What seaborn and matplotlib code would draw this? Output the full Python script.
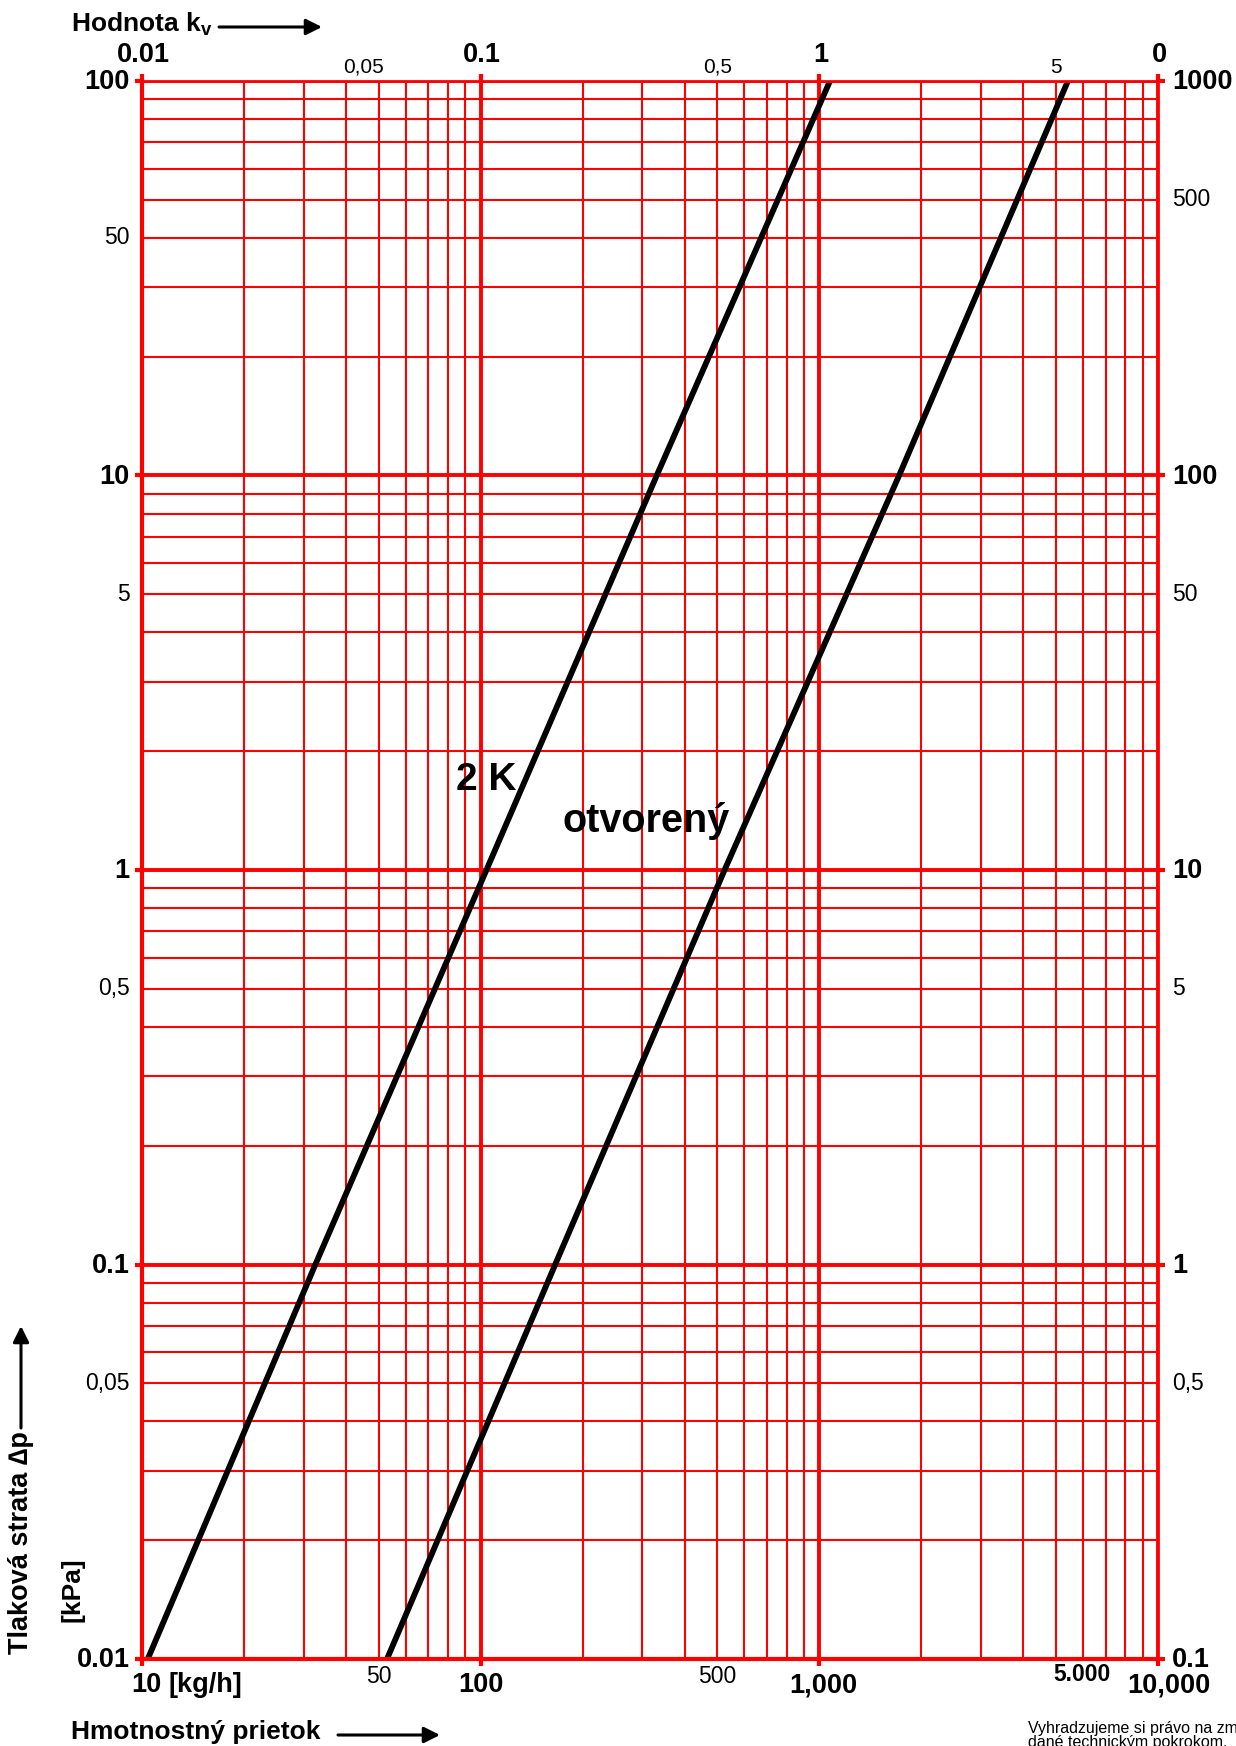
import numpy as np
import pandas as pd
import matplotlib
matplotlib.use("Agg")
import matplotlib.pyplot as plt
import seaborn as sns

# ---------------- data ----------------
pressure_kpa = [0.01, 0.1, 1, 10, 100]
flow_2k = [10.4, 32.5, 104, 331, 1075]
flow_open = [52.9, 166, 525, 1720, 5420]
series_names = ["2 K", "otvorený"]

left_major = [0.01, 0.1, 1, 10, 100]
left_major_lbl = ["0.01", "0.1", "1", "10", "100"]
left_minor = [0.05, 0.5, 5, 40]
left_minor_lbl = ["0,05", "0,5", "5", "50"]

right_major = [0.01, 0.1, 1, 10, 100]
right_major_lbl = ["0.1", "1", "10", "100", "1000"]
right_minor = [0.05, 0.5, 5, 50]
right_minor_lbl = ["0,5", "5", "50", "500"]

bottom_major = [10, 100, 1000, 10000]
bottom_major_lbl = ["10", "100", "1,000", "10,000"]
bottom_minor = [50, 500]
bottom_minor_lbl = ["50", "500"]

top_major = [10, 100, 1000, 10000]
top_major_lbl = ["0.01", "0.1", "1", "0"]
top_minor = [45, 500, 5000]
top_minor_lbl = ["0,05", "0,5", "5"]

# ---------------- style ----------------
sns.set_theme(style="white")
plt.rcParams["font.family"] = ["Liberation Sans", "DejaVu Sans"]
plt.rcParams["text.color"] = "black"
plt.rcParams["mathtext.fontset"] = "custom"
plt.rcParams["mathtext.rm"] = "Liberation Sans"
plt.rcParams["mathtext.bf"] = "Liberation Sans:bold"

W, H = 1236, 1746
fig = plt.figure(figsize=(W / 100, H / 100), dpi=100)
fig.patch.set_facecolor("white")

L, R, T, B = 142, 1158, 81, 1659
ax = fig.add_axes([L / W, 1 - B / H, (R - L) / W, (B - T) / H])
ax.set_facecolor("white")

def fp(x, y):
    return (x / W, 1 - y / H)

df = pd.DataFrame({
    "flow": flow_2k + flow_open,
    "dp": pressure_kpa + pressure_kpa,
    "series": [series_names[0]] * len(flow_2k) + [series_names[1]] * len(flow_open),
})

ax.set_xscale("log")
ax.set_yscale("log")
ax.set_xlim(10, 10000)
ax.set_ylim(0.01, 100)

RED = "#ff0000"
ax.set_axisbelow(True)
ax.yaxis.set_minor_locator(matplotlib.ticker.LogLocator(base=10, subs=np.arange(2, 10), numticks=20))
ax.xaxis.set_minor_locator(matplotlib.ticker.LogLocator(base=10, subs=np.arange(2, 10), numticks=20))
ax.grid(which="major", color=RED, lw=2.8)
ax.grid(which="minor", color=RED, lw=1.5)
for side, sp in ax.spines.items():
    sp.set_color(RED)
    sp.set_linewidth(3.0 if side in ("left", "bottom") else 2.0)

ax.tick_params(which="major", direction="out", length=5, width=3, color=RED,
               left=True, bottom=True, top=True, right=True,
               labelleft=False, labelbottom=False, labeltop=False, labelright=False)
ax.tick_params(which="minor", length=0)

sns.lineplot(data=df, x="flow", y="dp", hue="series", palette=["black", "black"],
             legend=False, estimator=None, sort=False, lw=4.2, ax=ax,
             solid_capstyle="butt")
ax.set_xlabel("")
ax.set_ylabel("")

BOLD = 19.5
NORM = 16.5
ytr = ax.get_yaxis_transform()
xtr = ax.get_xaxis_transform()

# left labels
for v, s in zip(left_major, left_major_lbl):
    ax.annotate(s, xy=(0, v), xycoords=ytr, xytext=(-9, -1), textcoords="offset points",
                ha="right", va="center", fontsize=BOLD, fontweight="bold", color="black")
for v, s in zip(left_minor, left_minor_lbl):
    ax.annotate(s, xy=(0, v), xycoords=ytr, xytext=(-9, 0), textcoords="offset points",
                ha="right", va="center", fontsize=NORM, color="black")
# right labels
for v, s in zip(right_major, right_major_lbl):
    ax.annotate(s, xy=(1, v), xycoords=ytr, xytext=(10, -1), textcoords="offset points",
                ha="left", va="center", fontsize=BOLD, fontweight="bold", color="black")
for v, s in zip(right_minor, right_minor_lbl):
    ax.annotate(s, xy=(1, v), xycoords=ytr, xytext=(10, 0), textcoords="offset points",
                ha="left", va="center", fontsize=NORM, color="black")
# bottom labels
bx_off = {10: 3, 100: 0, 1000: 3, 10000: 8}
for v, s in zip(bottom_major, bottom_major_lbl):
    ax.annotate(s, xy=(v, 0), xycoords=xtr, xytext=(bx_off[v], -19), textcoords="offset points",
                ha="center", va="center", fontsize=BOLD, fontweight="bold", color="black")
for v, s in zip(bottom_minor, bottom_minor_lbl):
    ax.annotate(s, xy=(v, 0), xycoords=xtr, xytext=(0, -12.5), textcoords="offset points",
                ha="center", va="center", fontsize=NORM, color="black")
ax.annotate("5.000", xy=(5000, 0), xycoords=xtr, xytext=(19, -11), textcoords="offset points",
            ha="center", va="center", fontsize=NORM, fontweight="bold", color="black")
ax.annotate("[kg/h]", xy=(10, 0), xycoords=xtr, xytext=(19, -19), textcoords="offset points",
            ha="left", va="center", fontsize=BOLD, fontweight="bold", color="black")
# top labels
for v, s in zip(top_major, top_major_lbl):
    ax.annotate(s, xy=(v, 1), xycoords=xtr, xytext=(1, 19), textcoords="offset points",
                ha="center", va="center", fontsize=BOLD, fontweight="bold", color="black")
for v, s in zip(top_minor, top_minor_lbl):
    ax.annotate(s, xy=(v, 1), xycoords=xtr, xytext=(0, 10), textcoords="offset points",
                ha="center", va="center", fontsize=NORM - 1.5, color="black")

# curve labels
fig.text(*fp(456, 790), "2 K", fontsize=28, fontweight="bold", ha="left", va="baseline",
         color="black")
fig.text(*fp(563, 832), "otvorený", fontsize=28.5, fontweight="bold", ha="left", va="baseline",
         color="black")

arrow_kw = dict(arrowstyle="-|>", color="black", lw=2.2, mutation_scale=24,
                shrinkA=0, shrinkB=0)

# top title
fig.text(*fp(71, 32), r"Hodnota k$_\mathbf{v}$", fontsize=19, fontweight="bold",
         ha="left", va="baseline", color="black")
fig.patches.append(matplotlib.patches.FancyArrowPatch(fp(219, 27), fp(322, 27),
                   transform=fig.transFigure, **arrow_kw))

# bottom title
fig.text(*fp(71, 1732), "Hmotnostný prietok", fontsize=19, fontweight="bold",
         ha="left", va="center", color="black")
fig.patches.append(matplotlib.patches.FancyArrowPatch(fp(338, 1735), fp(440, 1735),
                   transform=fig.transFigure, **arrow_kw))

# y label
fig.text(*fp(21, 1654), "Tlaková strata ∆p", fontsize=19.5, fontweight="bold",
         rotation=90, ha="center", va="bottom", color="black")
fig.patches.append(matplotlib.patches.FancyArrowPatch(fp(21, 1428), fp(21, 1326),
                   transform=fig.transFigure, **arrow_kw))
fig.text(*fp(73, 1590), "[kPa]", fontsize=19, fontweight="bold",
         rotation=90, ha="center", va="center", color="black")

# footnote (cut at the figure edge, as in the source)
fig.text(*fp(1028, 1729), "Vyhradzujeme si právo na zmeny", fontsize=11.5,
         ha="left", va="center", color="black")
fig.text(*fp(1028, 1743), "dané technickým pokrokom.", fontsize=11.5,
         ha="left", va="center", color="black")

fig.savefig("out.png", dpi=100, facecolor="white")
